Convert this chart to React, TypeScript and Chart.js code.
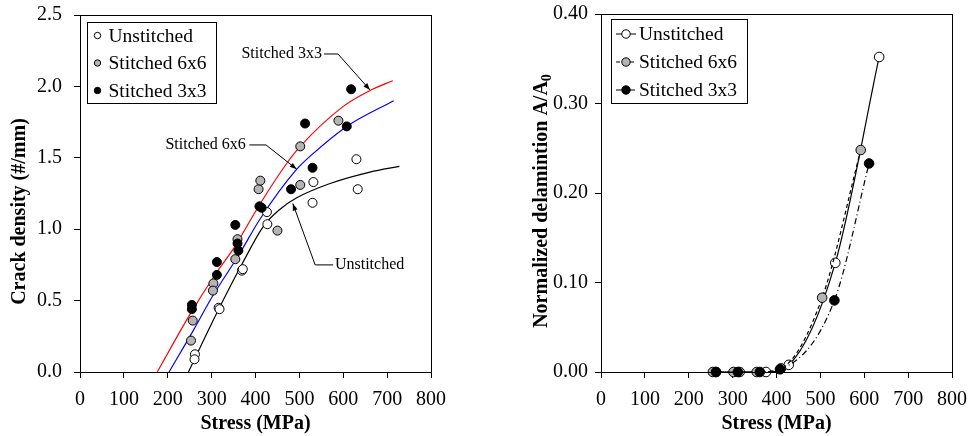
import React, { useEffect, useRef } from "react";
import { Chart, registerables } from "chart.js";

Chart.register(...registerables);

const FONT = "'Liberation Serif', 'Times New Roman', serif";
const GRAY = "#b4b4b4";

// ---------- Left chart: crack density ----------
const crackUnstitchedStress = [262, 261, 316, 318, 369, 371, 426, 427, 532, 530, 630, 633];
const crackUnstitchedDensity = [0.124, 0.089, 0.45, 0.44, 0.71, 0.72, 1.12, 1.035, 1.33, 1.185, 1.49, 1.28];

const crack6x6Stress = [253, 257, 304, 303, 354, 359, 407, 411, 450, 502, 502, 589];
const crack6x6Density = [0.22, 0.36, 0.62, 0.57, 0.79, 0.93, 1.28, 1.34, 0.99, 1.58, 1.31, 1.76];

const crack3x3Stress = [255, 255, 312, 312, 354, 359, 361, 409, 414, 481, 513, 530, 608, 618];
const crack3x3Density = [0.47, 0.44, 0.77, 0.68, 1.03, 0.9, 0.85, 1.16, 1.15, 1.28, 1.74, 1.43, 1.72, 1.98];

// fitted curves
const fit3x3Stress = [176, 250, 312, 349, 411, 471, 502, 600, 660, 713];
const fit3x3Density = [0, 0.4, 0.7, 0.86, 1.18, 1.46, 1.58, 1.86, 1.97, 2.04];
const fit6x6Stress = [203, 260, 300, 364, 410, 494, 524, 608, 715];
const fit6x6Density = [0, 0.3, 0.52, 0.83, 1.07, 1.42, 1.51, 1.72, 1.9];
const fitUnstitchedStress = [247, 316, 370, 418, 456, 494, 570, 661, 728];
const fitUnstitchedDensity = [0, 0.44, 0.76, 1.02, 1.14, 1.22, 1.32, 1.4, 1.44];

const crackXTicks = [0, 100, 200, 300, 400, 500, 600, 700, 800];
const crackYTicks = [0, 0.5, 1.0, 1.5, 2.0, 2.5];

// annotation callouts: text, text anchor (data), leader path (data)
const calloutLabels = ["Stitched 3x3", "Stitched 6x6", "Unstitched"];
const calloutTextAt = [[368, 2.227], [378, 1.59], [581, 0.75]];
const calloutAlign = ["left", "right", "left"];
const calloutPaths = [
  [[556, 2.227], [588, 2.227], [661, 1.975]],
  [[386, 1.59], [424, 1.59], [494, 1.42]],
  [[577, 0.75], [536, 0.75], [485, 1.18]],
];

// ---------- Right chart: normalized delamination ----------
const delamUnstitchedStress = [262, 316, 376, 428, 534, 634];
const delamUnstitchedArea = [0, 0, 0, 0.008, 0.122, 0.352];
const delam6x6Stress = [255, 302, 355, 410, 504, 592];
const delam6x6Area = [0, 0, 0, 0.004, 0.083, 0.248];
const delam3x3Stress = [262, 312, 362, 408, 532, 611];
const delam3x3Area = [0, 0, 0, 0.003, 0.08, 0.233];

const delamXTicks = [0, 100, 200, 300, 400, 500, 600, 700, 800];
const delamYTicks = [0, 0.1, 0.2, 0.3, 0.4];

const seriesNames = ["Unstitched", "Stitched 6x6", "Stitched 3x3"];

const zip = (xs: number[], ys: number[]) => xs.map((x, i) => ({ x, y: ys[i] }));

function axisCommon(tickPad: number) {
  return {
    grid: { display: true, drawOnChartArea: false, drawTicks: true, tickLength: 6, color: "#000", lineWidth: 1 },
    border: { display: true, color: "#000", width: 1 },
    ticks: { color: "#000", font: { family: FONT, size: 20 }, padding: tickPad, maxRotation: 0, autoSkip: false },
  };
}

function fitX(h: number) {
  return (s: any) => {
    s.height = h;
    s.paddingLeft = 0;
    s.paddingRight = 0;
  };
}
function fitY(w: number) {
  return (s: any) => {
    s.width = w;
    s.paddingTop = 0;
    s.paddingBottom = 0;
  };
}

function drawArrowHead(ctx: CanvasRenderingContext2D, x0: number, y0: number, x1: number, y1: number) {
  const ang = Math.atan2(y1 - y0, x1 - x0);
  const len = 7;
  const w = 2.5;
  ctx.beginPath();
  ctx.moveTo(x1, y1);
  ctx.lineTo(x1 - len * Math.cos(ang) + w * Math.sin(ang), y1 - len * Math.sin(ang) - w * Math.cos(ang));
  ctx.lineTo(x1 - len * Math.cos(ang) - w * Math.sin(ang), y1 - len * Math.sin(ang) + w * Math.cos(ang));
  ctx.closePath();
  ctx.fill();
}

const leftPlugin = {
  id: "leftDecor",
  afterDraw(chart: any) {
    const { ctx, chartArea: a, scales } = chart;
    const xs = scales.x, ys = scales.y;
    ctx.save();
    ctx.strokeStyle = "#000";
    ctx.lineWidth = 1;
    ctx.strokeRect(Math.round(a.left) + 0.5, Math.round(a.top) + 0.5, Math.round(a.right - a.left), Math.round(a.bottom - a.top));
    ctx.fillStyle = "#000";
    ctx.font = `bold 20px ${FONT}`;
    ctx.textAlign = "center";
    ctx.textBaseline = "middle";
    ctx.fillText("Stress (MPa)", (a.left + a.right) / 2, a.bottom + 52);
    ctx.save();
    ctx.translate(a.left - 60, (a.top + a.bottom) / 2 + 18);
    ctx.rotate(-Math.PI / 2);
    ctx.fillText("Crack density (#/mm)", 0, 0);
    ctx.restore();
    ctx.font = `16px ${FONT}`;
    ctx.lineWidth = 1;
    calloutLabels.forEach((label, i) => {
      const [tx, ty] = calloutTextAt[i];
      ctx.textAlign = calloutAlign[i] as CanvasTextAlign;
      ctx.fillText(label, xs.getPixelForValue(tx), ys.getPixelForValue(ty));
      const pts = calloutPaths[i].map(([px, py]) => [xs.getPixelForValue(px), ys.getPixelForValue(py)]);
      ctx.beginPath();
      pts.forEach(([px, py], j) => (j === 0 ? ctx.moveTo(px, py) : ctx.lineTo(px, py)));
      ctx.stroke();
      const n = pts.length;
      drawArrowHead(ctx, pts[n - 2][0], pts[n - 2][1], pts[n - 1][0], pts[n - 1][1]);
    });
    const lx = a.left + 7, ly = a.top + 7;
    ctx.strokeRect(Math.round(lx) + 0.5, Math.round(ly) + 0.5, 129, 81);
    const fills = ["#fff", GRAY, "#000"];
    ctx.font = `19.5px ${FONT}`;
    ctx.textAlign = "left";
    seriesNames.forEach((name, i) => {
      const cy = a.top + 20.5 + i * 27.5;
      ctx.beginPath();
      ctx.arc(a.left + 17.5, cy, 3.2, 0, Math.PI * 2);
      ctx.fillStyle = fills[i];
      ctx.fill();
      ctx.stroke();
      ctx.fillStyle = "#000";
      ctx.fillText(name, a.left + 28.5, cy + 1);
    });
    ctx.restore();
  },
};

const rightPlugin = {
  id: "rightDecor",
  afterDraw(chart: any) {
    const { ctx, chartArea: a } = chart;
    ctx.save();
    ctx.strokeStyle = "#000";
    ctx.lineWidth = 1;
    ctx.strokeRect(Math.round(a.left) + 0.5, Math.round(a.top) + 0.5, Math.round(a.right - a.left), Math.round(a.bottom - a.top));
    ctx.fillStyle = "#000";
    ctx.font = `bold 20px ${FONT}`;
    ctx.textAlign = "center";
    ctx.textBaseline = "middle";
    ctx.fillText("Stress (MPa)", (a.left + a.right) / 2, a.bottom + 52);
    ctx.save();
    ctx.translate(a.left - 59, (a.top + a.bottom) / 2 + 8);
    ctx.rotate(-Math.PI / 2);
    const main = "Normalized delamintion A/A";
    const wMain = ctx.measureText(main).width;
    ctx.font = `bold 14px ${FONT}`;
    const wSub = ctx.measureText("0").width;
    const start = -(wMain + wSub) / 2;
    ctx.font = `bold 20px ${FONT}`;
    ctx.textAlign = "left";
    ctx.fillText(main, start, 0);
    ctx.font = `bold 14px ${FONT}`;
    ctx.fillText("0", start + wMain, 5);
    ctx.restore();
    const lx = a.left + 10, ly = a.top + 5;
    ctx.strokeRect(Math.round(lx) + 0.5, Math.round(ly) + 0.5, 136, 84);
    const fills = ["#fff", GRAY, "#000"];
    const dashes = [[], [4, 3], [6, 3, 1, 3]];
    ctx.font = `19.5px ${FONT}`;
    ctx.textAlign = "left";
    seriesNames.forEach((name, i) => {
      const cy = a.top + 20 + i * 28;
      ctx.setLineDash(dashes[i]);
      ctx.beginPath();
      ctx.moveTo(a.left + 15, cy);
      ctx.lineTo(a.left + 35, cy);
      ctx.stroke();
      ctx.setLineDash([]);
      ctx.beginPath();
      ctx.arc(a.left + 25, cy, 4.2, 0, Math.PI * 2);
      ctx.fillStyle = fills[i];
      ctx.fill();
      ctx.stroke();
      ctx.fillStyle = "#000";
      ctx.fillText(name, a.left + 38, cy + 1);
    });
    ctx.restore();
  },
};

function pointSet(label: string, xs: number[], ys: number[], fill: string, order: number, r: number) {
  return {
    label,
    data: zip(xs, ys),
    showLine: false,
    pointRadius: r,
    pointBackgroundColor: fill,
    pointBorderColor: "#000",
    pointBorderWidth: 1,
    order,
    clip: false,
  };
}

function curveSet(label: string, xs: number[], ys: number[], color: string, dash: number[] = []) {
  return {
    label,
    data: zip(xs, ys),
    showLine: true,
    pointRadius: 0,
    borderColor: color,
    borderWidth: 1.2,
    borderDash: dash,
    cubicInterpolationMode: "monotone",
    order: 10,
    clip: false,
  };
}

function LeftChart() {
  const ref = useRef<HTMLCanvasElement>(null);
  useEffect(() => {
    const c = axisCommon(10);
    const cy = axisCommon(12);
    const chart = new Chart(ref.current!, {
      type: "scatter",
      data: {
        datasets: [
          curveSet("fit3x3", fit3x3Stress, fit3x3Density, "#ff0000"),
          curveSet("fit6x6", fit6x6Stress, fit6x6Density, "#0000ff"),
          curveSet("fitU", fitUnstitchedStress, fitUnstitchedDensity, "#000000"),
          pointSet(seriesNames[0], crackUnstitchedStress, crackUnstitchedDensity, "#fff", 3, 4.5),
          pointSet(seriesNames[1], crack6x6Stress, crack6x6Density, GRAY, 2, 4.5),
          pointSet(seriesNames[2], crack3x3Stress, crack3x3Density, "#000", 1, 4.5),
        ] as any,
      },
      options: {
        animation: false,
        responsive: false,
        events: [],
        layout: { padding: { left: 0, top: 15, right: 39, bottom: 0 } },
        plugins: { legend: { display: false }, tooltip: { enabled: false } },
        scales: {
          x: {
            type: "linear",
            min: 0,
            max: 800,
            ...c,
            afterBuildTicks: (s: any) => { s.ticks = crackXTicks.map((v) => ({ value: v })); },
            afterFit: fitX(64),
          },
          y: {
            type: "linear",
            min: 0,
            max: 2.5,
            ...cy,
            ticks: { ...cy.ticks, callback: (v: any) => Number(v).toFixed(1) },
            afterBuildTicks: (s: any) => { s.ticks = crackYTicks.map((v) => ({ value: v })); },
            afterFit: fitY(80),
          },
        } as any,
      },
      plugins: [leftPlugin],
    });
    return () => chart.destroy();
  }, []);
  return (
    <canvas ref={ref} width={470} height={436} style={{ position: "absolute", left: 0, top: 0, width: 470, height: 436 }} />
  );
}

function lineSet(label: string, xs: number[], ys: number[], fill: string, dash: number[], order: number) {
  return {
    label,
    data: zip(xs, ys),
    showLine: true,
    borderColor: "#000",
    borderWidth: 1.2,
    borderDash: dash,
    cubicInterpolationMode: "monotone",
    pointRadius: 4.8,
    pointBackgroundColor: fill,
    pointBorderColor: "#000",
    pointBorderWidth: 1,
    order,
    clip: false,
  };
}

function RightChart() {
  const ref = useRef<HTMLCanvasElement>(null);
  useEffect(() => {
    const c = axisCommon(10);
    const cy = axisCommon(7);
    const chart = new Chart(ref.current!, {
      type: "scatter",
      data: {
        datasets: [
          lineSet(seriesNames[0], delamUnstitchedStress, delamUnstitchedArea, "#fff", [], 3),
          lineSet(seriesNames[1], delam6x6Stress, delam6x6Area, GRAY, [4, 3], 2),
          lineSet(seriesNames[2], delam3x3Stress, delam3x3Area, "#000", [6, 3, 1, 3], 1),
        ] as any,
      },
      options: {
        animation: false,
        responsive: false,
        events: [],
        layout: { padding: { left: 0, top: 14, right: 17, bottom: 0 } },
        plugins: { legend: { display: false }, tooltip: { enabled: false } },
        scales: {
          x: {
            type: "linear",
            min: 0,
            max: 800,
            ...c,
            afterBuildTicks: (s: any) => { s.ticks = delamXTicks.map((v) => ({ value: v })); },
            afterFit: fitX(64),
          },
          y: {
            type: "linear",
            min: 0,
            max: 0.4,
            ...cy,
            ticks: { ...cy.ticks, callback: (v: any) => Number(v).toFixed(2) },
            afterBuildTicks: (s: any) => { s.ticks = delamYTicks.map((v) => ({ value: v })); },
            afterFit: fitY(121),
          },
        } as any,
      },
      plugins: [rightPlugin],
    });
    return () => chart.destroy();
  }, []);
  return (
    <canvas ref={ref} width={489} height={436} style={{ position: "absolute", left: 480, top: 0, width: 489, height: 436 }} />
  );
}

export default function App() {
  return (
    <div style={{ position: "absolute", left: 0, top: 0, width: 969, height: 436, background: "#fff" }}>
      <LeftChart />
      <RightChart />
    </div>
  );
}
